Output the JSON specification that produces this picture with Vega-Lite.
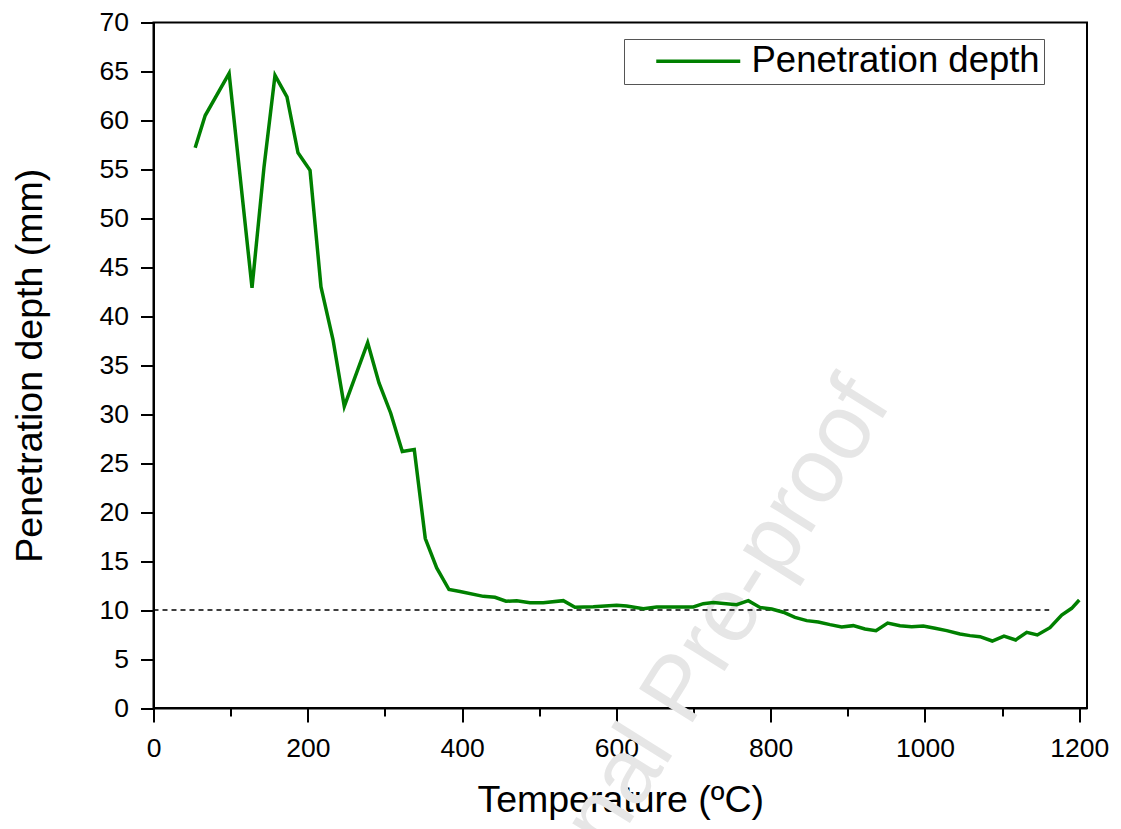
{
  "$schema": "https://vega.github.io/schema/vega-lite/v6.json",
  "width": 933.5,
  "height": 685.5,
  "autosize": "none",
  "padding": {"left": 153.5, "top": 22.5, "right": 34, "bottom": 121},
  "background": "white",
  "config": {
    "view": {"stroke": "black", "strokeWidth": 2},
    "font": "Liberation Sans",
    "legend": {"strokeWidth": 1},
    "axis": {
      "domainColor": "black",
      "domainWidth": 2,
      "tickColor": "black",
      "tickWidth": 2,
      "grid": false,
      "labelFont": "Liberation Sans",
      "labelFontSize": 26.5,
      "labelColor": "black",
      "titleFont": "Liberation Sans",
      "titleFontSize": 37.5,
      "titleFontWeight": "normal",
      "titleColor": "black",
      "labelFlush": false,
      "labelOverlap": false
    }
  },
  "datasets": {
    "curve": [
      {"T": 54, "depth": 57.2},
      {"T": 67, "depth": 60.5},
      {"T": 98, "depth": 64.8},
      {"T": 127.7, "depth": 42.9},
      {"T": 143.2, "depth": 55.2},
      {"T": 157.5, "depth": 64.6},
      {"T": 173, "depth": 62.4},
      {"T": 187.3, "depth": 56.7},
      {"T": 202.9, "depth": 54.9},
      {"T": 217.1, "depth": 43.0},
      {"T": 232.7, "depth": 37.6},
      {"T": 247.3, "depth": 30.8},
      {"T": 277.6, "depth": 37.3},
      {"T": 292.3, "depth": 33.2},
      {"T": 307.5, "depth": 30.1},
      {"T": 322.5, "depth": 26.2},
      {"T": 338, "depth": 26.4},
      {"T": 352.3, "depth": 17.3},
      {"T": 367.1, "depth": 14.3},
      {"T": 383, "depth": 12.1},
      {"T": 397.3, "depth": 11.9},
      {"T": 427.5, "depth": 11.4},
      {"T": 442.6, "depth": 11.3},
      {"T": 456.9, "depth": 10.9},
      {"T": 470.8, "depth": 10.95},
      {"T": 488, "depth": 10.76},
      {"T": 505.2, "depth": 10.76},
      {"T": 531.2, "depth": 10.96},
      {"T": 546.3, "depth": 10.29},
      {"T": 570, "depth": 10.35},
      {"T": 600.4, "depth": 10.49},
      {"T": 613.3, "depth": 10.42},
      {"T": 634.9, "depth": 10.14},
      {"T": 652.2, "depth": 10.32},
      {"T": 699.7, "depth": 10.32},
      {"T": 712.6, "depth": 10.65},
      {"T": 725.6, "depth": 10.76},
      {"T": 755.9, "depth": 10.55},
      {"T": 771, "depth": 10.96},
      {"T": 786.1, "depth": 10.27},
      {"T": 801.3, "depth": 10.11},
      {"T": 816.3, "depth": 9.78},
      {"T": 831.5, "depth": 9.26},
      {"T": 846.7, "depth": 8.92},
      {"T": 861.7, "depth": 8.78},
      {"T": 876.9, "depth": 8.51},
      {"T": 892, "depth": 8.27},
      {"T": 907, "depth": 8.41},
      {"T": 922.2, "depth": 8.07},
      {"T": 936.5, "depth": 7.9},
      {"T": 951.6, "depth": 8.68},
      {"T": 967.6, "depth": 8.41},
      {"T": 982.8, "depth": 8.3},
      {"T": 997.8, "depth": 8.38},
      {"T": 1013, "depth": 8.14},
      {"T": 1028.1, "depth": 7.9},
      {"T": 1045.4, "depth": 7.56},
      {"T": 1058.3, "depth": 7.39},
      {"T": 1071.3, "depth": 7.28},
      {"T": 1087.2, "depth": 6.84},
      {"T": 1102.4, "depth": 7.35},
      {"T": 1117.6, "depth": 6.95},
      {"T": 1131.9, "depth": 7.73},
      {"T": 1145.6, "depth": 7.46},
      {"T": 1162, "depth": 8.2},
      {"T": 1177.2, "depth": 9.5},
      {"T": 1190.1, "depth": 10.18},
      {"T": 1200, "depth": 11.03}
    ],
    "threshold": [{"T": 0, "Tend": 1161, "depth": 10}],
    "watermark": [{"T": 682.4, "depth": 1.84, "label": "Journal Pre-proof"}]
  },
  "layer": [
    {
      "data": {"name": "watermark"},
      "mark": {"type": "text", "angle": -58, "fontSize": 92, "color": "#e6e6e6", "align": "center", "baseline": "middle", "font": "Liberation Sans"},
      "encoding": {
        "x": {
          "field": "T",
          "type": "quantitative",
          "scale": {"domain": [0, 1210], "nice": false, "zero": false},
          "axis": {
            "title": "Temperature (ºC)",
            "format": "d",
            "values": [0, 100, 200, 300, 400, 500, 600, 700, 800, 900, 1000, 1100, 1200],
            "labelExpr": "datum.value % 200 === 0 ? datum.label : ''",
            "tickSize": 14,
            "tickDash": {"condition": {"test": "datum.value % 200 !== 0", "value": [8, 30]}, "value": [14, 0]},
            "labelPadding": 13,
            "titlePadding": 20
          }
        },
        "y": {
          "field": "depth",
          "type": "quantitative",
          "scale": {"domain": [0, 70], "nice": false},
          "axis": {
            "title": "Penetration depth (mm)",
            "values": [0, 2.5, 5, 7.5, 10, 12.5, 15, 17.5, 20, 22.5, 25, 27.5, 30, 32.5, 35, 37.5, 40, 42.5, 45, 47.5, 50, 52.5, 55, 57.5, 60, 62.5, 65, 67.5, 70],
            "labelExpr": "datum.value % 5 === 0 ? datum.label : ''",
            "tickSize": 13,
            "tickDash": {"condition": {"test": "datum.value % 5 !== 0", "value": [7, 30]}, "value": [13, 0]},
            "labelPadding": 12,
            "titlePadding": 50
          }
        },
        "text": {"field": "label", "type": "nominal"}
      }
    },
    {
      "data": {"name": "threshold"},
      "mark": {"type": "rule", "color": "black", "strokeWidth": 1.4, "strokeDash": [5, 4]},
      "encoding": {
        "x": {"field": "T", "type": "quantitative"},
        "x2": {"field": "Tend"},
        "y": {"field": "depth", "type": "quantitative"}
      }
    },
    {
      "data": {"name": "curve"},
      "mark": {"type": "line", "strokeWidth": 3.5, "clip": true},
      "encoding": {
        "x": {"field": "T", "type": "quantitative"},
        "y": {"field": "depth", "type": "quantitative"},
        "color": {
          "datum": "Penetration depth",
          "type": "nominal",
          "scale": {"range": ["#008000"]},
          "legend": {
            "title": null,
            "orient": "none",
            "legendX": 470.5,
            "legendY": 16.5,
            "strokeColor": "#555555",
            "fillColor": "white",
            "padding": 4,
            "symbolType": "M-4,0H4",
            "symbolSize": 441,
            "symbolStrokeWidth": 3.5,
            "symbolOffset": 52,
            "labelFont": "Liberation Sans",
            "labelFontSize": 36.5,
            "labelColor": "black",
            "labelOffset": 35,
            "labelLimit": 500
          }
        }
      }
    }
  ]
}
